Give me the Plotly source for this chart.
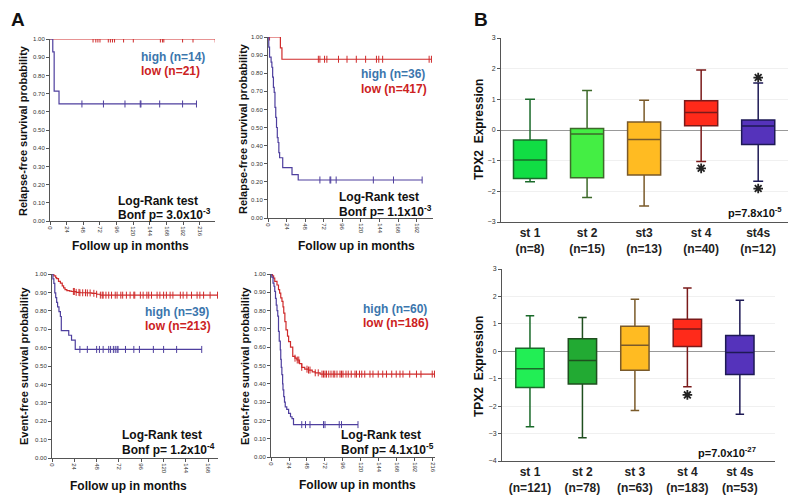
import plotly.graph_objects as go

# ---------------- DATA ----------------
# Panel A, top-left: relapse-free survival (high n=14, low n=21)
tl_high_t = [0, 4, 6, 13, 211]
tl_high_s = [1.0, 0.929, 0.714, 0.643, 0.643]
tl_high_c = [46, 77, 108, 130, 131, 158, 191, 211]
tl_low_t = [0, 238]
tl_low_s = [1.0, 1.0]
tl_low_c = [62, 66, 69, 72, 84, 87, 90, 93, 106, 120, 159, 162, 164, 191, 206, 238]

# Panel A, top-right: relapse-free survival (high n=36, low n=417)
tr_high_t = [0, 1, 2, 4, 5, 6, 7, 8, 9, 10, 11, 12, 13, 14, 15, 19, 31, 39, 199]
tr_high_s = [1.0, 0.944, 0.889, 0.861, 0.833, 0.778, 0.722, 0.694, 0.611, 0.556,
             0.5, 0.444, 0.417, 0.361, 0.333, 0.278, 0.24, 0.21, 0.21]
tr_high_c = [67, 80, 81, 88, 136, 162, 199]
tr_low_t = [0, 16, 18, 211]
tr_low_s = [1.0, 0.94, 0.877, 0.877]
tr_low_c = [2, 65, 67, 73, 76, 91, 102, 114, 126, 140, 143, 148, 208, 211]

# Panel A, bottom-left: event-free survival (high n=39, low n=213)
bl_high_t = [0, 1, 2, 3, 4, 5, 6, 7.5, 9, 10, 18, 21, 25, 161]
bl_high_s = [1.0, 0.974, 0.949, 0.897, 0.872, 0.846, 0.821, 0.795, 0.769, 0.692,
             0.667, 0.641, 0.59, 0.59]
bl_high_c = [30, 38, 48, 51, 55, 61, 63, 66, 68, 70, 71, 79, 88, 94, 109, 120, 134, 161]
bl_low_t = [0, 2, 4, 5, 7, 9, 11, 12.5, 14, 16, 19, 21, 26, 30, 38, 43, 48, 52, 179]
bl_low_s = [1.0, 0.99, 0.98, 0.975, 0.96, 0.95, 0.935, 0.925, 0.915, 0.91, 0.907,
            0.905, 0.90, 0.898, 0.897, 0.895, 0.89, 0.885, 0.885]
bl_low_c = [23, 24, 26, 29, 30, 33, 36, 38, 41, 45, 48, 52, 54, 55, 58, 61, 64, 68,
            70, 74, 76, 80, 84, 88, 89, 95, 98, 102, 104, 107, 113, 116, 120, 123,
            127, 130, 138, 141, 145, 150, 156, 159, 163, 170, 178]

# Panel A, bottom-right: event-free survival (high n=60, low n=186)
br_high_t = [0, 1, 2.7, 4, 5, 6, 7, 8, 9, 10, 11, 12.4, 13, 13.7, 14.5, 15.5, 16, 17,
             18, 19, 21, 23.5, 26, 28, 30, 116]
br_high_s = [1.0, 0.983, 0.95, 0.933, 0.905, 0.867, 0.83, 0.8, 0.77, 0.686, 0.633,
             0.585, 0.533, 0.49, 0.45, 0.40, 0.367, 0.33, 0.3, 0.274, 0.26, 0.238,
             0.22, 0.21, 0.177, 0.177]
br_high_c = [41, 46, 52, 70, 72, 91, 94, 116]
br_low_t = [0, 2, 3.5, 5, 8, 10, 11.5, 13, 14.6, 16, 17, 18.5, 20, 22, 23.5, 26, 29,
            32, 34.5, 38, 41, 45, 50, 55, 59, 65.5, 218]
br_low_s = [1.0, 0.99, 0.978, 0.96, 0.94, 0.915, 0.896, 0.87, 0.85, 0.82, 0.786,
            0.74, 0.695, 0.66, 0.63, 0.60, 0.55, 0.54, 0.53, 0.51, 0.49, 0.48,
            0.475, 0.465, 0.46, 0.453, 0.453]
br_low_c = [32, 35, 37, 41, 48, 50, 52, 59, 63, 68, 70, 72, 74, 77, 80, 83, 85, 88,
            92, 94, 96, 100, 103, 107, 112, 114, 118, 121, 125, 132, 136, 143, 149,
            154, 161, 167, 172, 176, 185, 194, 200, 215, 218]

km_ticks_tl = [0, 24, 48, 72, 96, 120, 144, 168, 192, 216]
km_ticks_tr = [0, 24, 48, 72, 96, 120, 144, 168, 192]
km_ticks_bl = [0, 24, 48, 72, 96, 120, 144, 168]
km_ticks_br = [0, 24, 48, 72, 96, 120, 144, 168, 192, 216]

# Panel B, top box plot
b1_cats = ["st 1", "st 2", "st3", "st 4", "st4s"]
b1_n = [8, 15, 13, 40, 12]
b1_upper = [1.00, 1.29, 0.97, 1.96, 1.53]
b1_q3 = [-0.33, 0.05, 0.26, 0.95, 0.33]
b1_med = [-0.98, -0.13, -0.31, 0.57, 0.13]
b1_q1 = [-1.58, -1.56, -1.47, 0.14, -0.47]
b1_lower = [-1.69, -2.20, -2.48, -1.03, -1.67]
b1_star_x = ["st 4", "st4s", "st4s"]
b1_star_y = [-1.25, 1.71, -1.91]

# Panel B, bottom box plot
b2_cats = ["st 1", "st 2", "st 3", "st 4", "st 4s"]
b2_n = [121, 78, 63, 183, 53]
b2_upper = [1.30, 1.23, 1.90, 2.31, 1.86]
b2_q3 = [0.11, 0.46, 0.91, 1.17, 0.58]
b2_med = [-0.64, -0.34, 0.22, 0.81, -0.04]
b2_q1 = [-1.32, -1.19, -0.69, 0.17, -0.85]
b2_lower = [-2.75, -3.15, -2.16, -1.29, -2.30]
b2_star_x = ["st 4"]
b2_star_y = [-1.59]

# ---------------- STYLE ----------------
# the page body has an 8px default margin, so the figure is drawn 8px smaller
# and every window-pixel position is shifted by that offset
OFF = 8
W, H = 796 - OFF, 501 - OFF
FONT = "Liberation Sans, Arial, sans-serif"
RED = "#cf2b2b"
PURPLE = "#4e3f9e"
BLUE_TXT = "#3b76ad"
RED_TXT = "#cc2222"

b1_fill = ["#11dd44", "#44ee44", "#ffbb22", "#ff2a1a", "#5533bb"]
b1_line = ["#1a6a2a", "#3d6a2a", "#7a5a2a", "#7a1a1a", "#1e1a55"]
b2_fill = ["#22ee55", "#22aa33", "#ffbb22", "#ff2a1a", "#5533bb"]
b2_line = ["#1a6a2a", "#1f4f1f", "#7a5a2a", "#7a1a1a", "#1e1a55"]


def px_x(p):
    return (p - OFF) / W


def px_y(p):
    return 1 - (p - OFF) / H


fig = go.Figure()


def step_value(ts, ss, t):
    v = ss[0]
    for ti, si in zip(ts, ss):
        if ti <= t:
            v = si
    return v


def add_km(xa, ya, ht, hs, hc, lt, ls, lc):
    for t, s, c, col in [(lt, ls, lc, RED), (ht, hs, hc, PURPLE)]:
        fig.add_trace(go.Scatter(x=t, y=s, mode="lines", line=dict(color=col, width=1.2, shape="hv"),
                                 xaxis=xa, yaxis=ya, showlegend=False, hoverinfo="skip"))
        cy = [step_value(t, s, ci) for ci in c]
        fig.add_trace(go.Scatter(x=c, y=cy, mode="markers",
                                 marker=dict(symbol="line-ns", size=5, color=col,
                                             line=dict(color=col, width=1)),
                                 xaxis=xa, yaxis=ya, showlegend=False, hoverinfo="skip"))


add_km("x", "y", tl_high_t, tl_high_s, tl_high_c, tl_low_t, tl_low_s, tl_low_c)
add_km("x2", "y2", tr_high_t, tr_high_s, tr_high_c, tr_low_t, tr_low_s, tr_low_c)
add_km("x3", "y3", bl_high_t, bl_high_s, bl_high_c, bl_low_t, bl_low_s, bl_low_c)
add_km("x4", "y4", br_high_t, br_high_s, br_high_c, br_low_t, br_low_s, br_low_c)


def add_boxes(xa, ya, cats, q1, med, q3, lo, up, fills, lines, width):
    for i, c in enumerate(cats):
        fig.add_trace(go.Box(x=[c], q1=[q1[i]], median=[med[i]], q3=[q3[i]],
                             lowerfence=[lo[i]], upperfence=[up[i]],
                             fillcolor=fills[i], line=dict(color=lines[i], width=1.5),
                             width=width, whiskerwidth=0.3, boxpoints=False,
                             xaxis=xa, yaxis=ya, showlegend=False, hoverinfo="skip"))


add_boxes("x5", "y5", b1_cats, b1_q1, b1_med, b1_q3, b1_lower, b1_upper, b1_fill, b1_line, 0.58)
add_boxes("x6", "y6", b2_cats, b2_q1, b2_med, b2_q3, b2_lower, b2_upper, b2_fill, b2_line, 0.54)

star_marker = dict(symbol="asterisk-open", size=8, color="#222", line=dict(color="#222", width=1.8))
fig.add_trace(go.Scatter(x=b1_star_x, y=b1_star_y, mode="markers", marker=star_marker,
                         xaxis="x5", yaxis="y5", showlegend=False, hoverinfo="skip"))
fig.add_trace(go.Scatter(x=b2_star_x, y=b2_star_y, mode="markers", marker=star_marker,
                         xaxis="x6", yaxis="y6", showlegend=False, hoverinfo="skip"))

axis_common = dict(showline=True, linecolor="#555", linewidth=1, ticks="outside", ticklen=3,
                   tickcolor="#555", showgrid=False, zeroline=False, automargin=False,
                   tickfont=dict(size=6, color="#333", family=FONT))


def km_axes(idx, xd, yd, xmax, ticks):
    sfx = "" if idx == 1 else str(idx)
    xa = dict(axis_common, domain=xd, range=[0, xmax], tickvals=ticks, tickangle=90,
              anchor="y" + sfx)
    ya = dict(axis_common, domain=yd, range=[0, 1.0], tickvals=[i / 10 for i in range(11)],
              tickformat=".2f", anchor="x" + sfx)
    return xa, ya


km_specs = [
    (1, [px_x(50), px_x(215)], [px_y(221), px_y(39)], 237.7, km_ticks_tl),
    (2, [px_x(268), px_x(433)], [px_y(218), px_y(37)], 213, km_ticks_tr),
    (3, [px_x(52), px_x(218)], [px_y(458), px_y(274)], 178.5, km_ticks_bl),
    (4, [px_x(271), px_x(435)], [px_y(457), px_y(274)], 218.7, km_ticks_br),
]
layout_axes = {}
for idx, xd, yd, xm, tk in km_specs:
    xa, ya = km_axes(idx, xd, yd, xm, tk)
    sfx = "" if idx == 1 else str(idx)
    layout_axes["xaxis" + sfx] = xa
    layout_axes["yaxis" + sfx] = ya

box_tick_font = dict(size=12, color="#222", family=FONT)
layout_axes["xaxis5"] = dict(domain=[px_x(501), px_x(793)], anchor="y5", type="category",
                             range=[-0.509, 4.61], showline=True, linecolor="#555",
                             ticks="", showgrid=False, tickvals=b1_cats, automargin=False,
                             ticktext=[f"<b>{c}<br>(n={n})</b>" for c, n in zip(b1_cats, b1_n)],
                             tickfont=box_tick_font)
layout_axes["yaxis5"] = dict(domain=[px_y(222), px_y(38)], anchor="x5", range=[-3, 3],
                             dtick=1, showline=True, linecolor="#555", ticks="outside",
                             ticklen=3, tickcolor="#555", showgrid=True, gridcolor="#f0f0f0",
                             zeroline=True, zerolinecolor="#999", zerolinewidth=1,
                             automargin=False, tickfont=dict(size=7, color="#333", family=FONT))
layout_axes["xaxis6"] = dict(domain=[px_x(502), px_x(775)], anchor="y6", type="category",
                             range=[-0.533, 4.67], showline=True, linecolor="#555",
                             ticks="", showgrid=False, tickvals=b2_cats, automargin=False,
                             ticktext=[f"<b>{c}<br>(n={n})</b>" for c, n in zip(b2_cats, b2_n)],
                             tickfont=box_tick_font)
layout_axes["yaxis6"] = dict(domain=[px_y(461), px_y(269)], anchor="x6", range=[-4, 3],
                             dtick=1, showline=True, linecolor="#555", ticks="outside",
                             ticklen=3, tickcolor="#555", showgrid=True, gridcolor="#f0f0f0",
                             zeroline=True, zerolinecolor="#999", zerolinewidth=1,
                             automargin=False, tickfont=dict(size=7, color="#333", family=FONT))

ann = []


def add_text(text, x, y, size=12, color="#111", xanchor="left", angle=0):
    ann.append(dict(text=text, x=px_x(x), y=px_y(y), xref="paper", yref="paper",
                    showarrow=False, xanchor=xanchor, yanchor="middle", textangle=angle,
                    font=dict(size=size, color=color, family=FONT)))


add_text("<b>A</b>", 9, 20, size=19)
add_text("<b>B</b>", 472, 20, size=19)

# legends and p-values in KM plots
km_text = [
    (139, 57, 71, "high (n=14)", "low (n=21)", 116, 201, 214, "3.0x10<sup>-3</sup>"),
    (359, 74, 89, "high (n=36)", "low (n=417)", 337, 197, 211, "1.1x10<sup>-3</sup>"),
    (143, 312, 326, "high (n=39)", "low (n=213)", 120, 435, 449, "1.2x10<sup>-4</sup>"),
    (361, 309, 323, "high (n=60)", "low (n=186)", 339, 435, 449, "4.1x10<sup>-5</sup>"),
]
for lx, hy, ly, ht, lt, px_, py1, py2, pv in km_text:
    add_text(f"<b>{ht}</b>", lx, hy, size=12, color=BLUE_TXT)
    add_text(f"<b>{lt}</b>", lx, ly, size=12, color=RED_TXT)
    add_text("<b>Log-Rank test</b>", px_, py1, size=12)
    add_text(f"<b>Bonf p= {pv}</b>", px_, py2, size=12)

# axis titles KM
add_text("<b>Follow up in months</b>", 130, 246, size=12, xanchor="center")
add_text("<b>Follow up in months</b>", 356, 246, size=12, xanchor="center")
add_text("<b>Follow up in months</b>", 129, 486, size=12, xanchor="center")
add_text("<b>Follow up in months</b>", 357, 485, size=12, xanchor="center")
add_text("<b>Relapse-free survival probability</b>", 23, 131, size=11, xanchor="center", angle=-90)
add_text("<b>Relapse-free survival probability</b>", 243, 128, size=11, xanchor="center", angle=-90)
add_text("<b>Event-free survival probability</b>", 24, 366, size=11, xanchor="center", angle=-90)
add_text("<b>Event-free survival probability</b>", 245, 366, size=11, xanchor="center", angle=-90)

# Box titles
add_text("<b>TPX2  Expression</b>", 479, 130, size=12, xanchor="center", angle=-90)
add_text("<b>TPX2  Expression</b>", 479, 367, size=12, xanchor="center", angle=-90)
add_text("<b>p=7.8x10<sup>-5</sup></b>", 784, 212, size=11, xanchor="right")
add_text("<b>p=7.0x10<sup>-27</sup></b>", 758, 452, size=11, xanchor="right")

fig.update_layout(width=W, height=H, margin=dict(l=0, r=0, t=0, b=0, autoexpand=False),
                  paper_bgcolor="white", plot_bgcolor="white", showlegend=False,
                  font=dict(family=FONT), annotations=ann, **layout_axes)

fig.write_html("out.html")
